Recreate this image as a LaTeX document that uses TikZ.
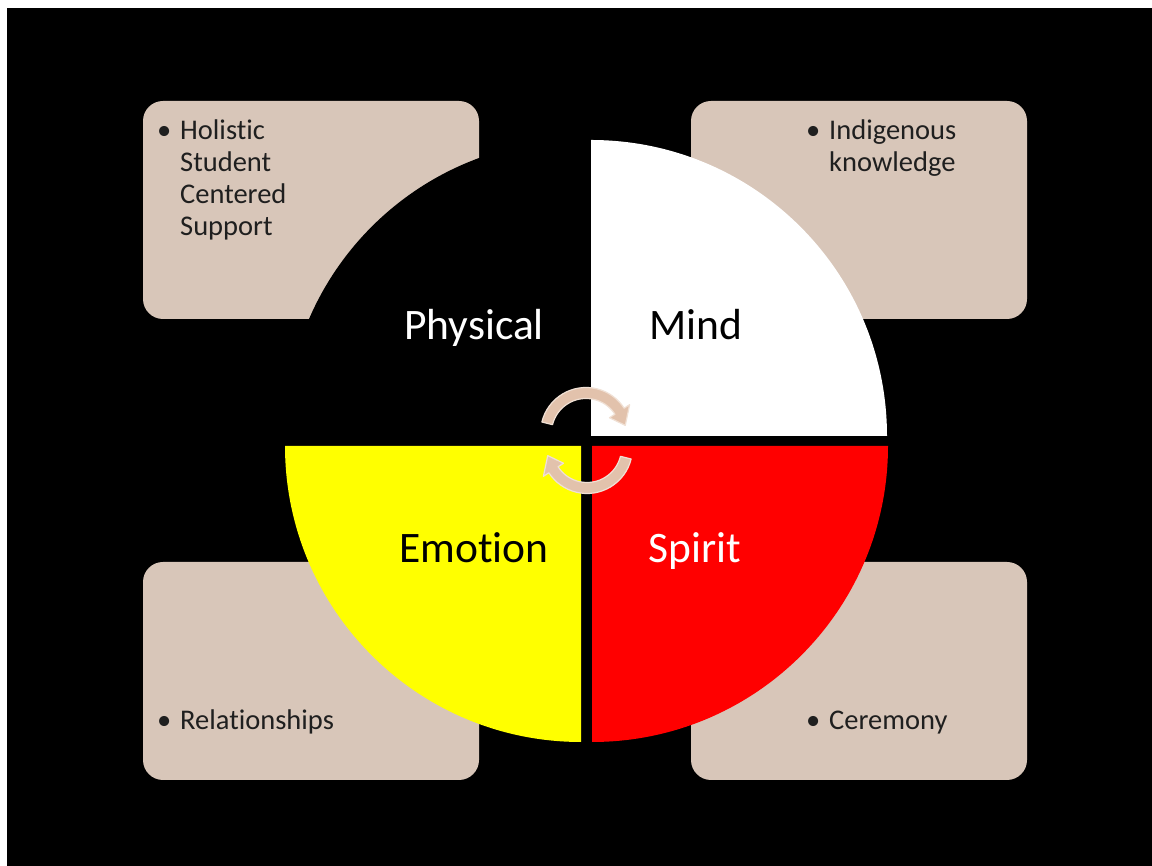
\documentclass[tikz,border=0pt]{standalone}
\usepackage{fontspec}
\setmainfont{Carlito}[Ligatures=NoCommon]
\usetikzlibrary{calc}
\definecolor{boxtan}{RGB}{216,198,185}
\definecolor{arrowtan}{RGB}{226,194,172}
\definecolor{arrowedge}{RGB}{240,224,212}
\definecolor{wheelred}{RGB}{255,0,0}
\definecolor{wheelyellow}{RGB}{255,255,0}
\begin{document}
\begin{tikzpicture}[x=1pt,y=1pt,
  infobox/.style={fill=boxtan, rounded corners=20pt, minimum width=336pt, minimum height=218pt, inner sep=0pt},
  quadlabel/.style={font=\fontsize{43.5}{52}\selectfont, anchor=base, inner sep=0pt},
  boxtext/.style={font=\fontsize{28.5}{31.7}\selectfont, anchor=base west, inner sep=0pt, text=black!88},
  arrowband/.style={fill=arrowtan, draw=arrowedge, line width=1.2pt, line join=round}]
\useasboundingbox (0,0) rectangle (1152,866);
% page and dark canvas
\fill[white] (0,0) rectangle (1152,866);
\fill[black] (7,0) rectangle (1152,858);

% four information boxes
\node[infobox] (boxTL) at (311,656) {};
\node[infobox] (boxTR) at (859,656) {};
\node[infobox] (boxBL) at (311,195) {};
\node[infobox] (boxBR) at (859,195) {};

% the four quadrants of the wheel
\coordinate (physC) at (581,430);
\coordinate (mindC) at (591,430);
\coordinate (emoC) at (581,420);
\coordinate (spiritC) at (592,420);
\fill[black] (physC) -- ++(90:296pt) arc[start angle=90,end angle=180,radius=296pt] -- cycle;
\fill[white] (mindC) -- ++(0:296pt) arc[start angle=0,end angle=90,radius=296pt] -- cycle;
\fill[wheelyellow] (emoC) -- ++(180:296pt) arc[start angle=180,end angle=270,radius=296pt] -- cycle;
\fill[wheelred] (spiritC) -- ++(270:296pt) arc[start angle=270,end angle=360,radius=296pt] -- cycle;

% box texts
\node[boxtext] (txtTL) at (180,726) {\llap{•\hspace{9pt}}\parbox[t]{250pt}{\raggedright Holistic\\Student\\Centered\\Support}};
\node[boxtext] (txtTR) at (829,726) {\llap{•\hspace{9pt}}\parbox[t]{180pt}{\raggedright Indigenous\\knowledge}};
\node[boxtext] (txtBL) at (180,136) {\llap{•\hspace{9pt}}Relationships};
\node[boxtext] (txtBR) at (829,136) {\llap{•\hspace{9pt}}Ceremony};

% quadrant labels
\node[quadlabel, text=white] (physLabel) at (474,526) {Physical};
\node[quadlabel] (mindLabel) at (696,526) {Mind};
\node[quadlabel] (emoLabel) at (474,303) {Emotion};
\node[quadlabel, text=white] (spiritLabel) at (695,303) {Spirit};

% circular arrows in the middle
\coordinate (topRing) at (586,433);
\coordinate (botRing) at (587,418);
\path[arrowband] ($(topRing)+(166:45.5pt)$) arc[start angle=166,end angle=33,radius=45.5pt]
  -- ($(topRing)+(33:52pt)$) -- ($(topRing)+(11:40pt)$) -- ($(topRing)+(33:28pt)$)
  -- ($(topRing)+(33:34.5pt)$) arc[start angle=33,end angle=166,radius=34.5pt] -- cycle;
\path[arrowband] ($(botRing)+(-14:45.5pt)$) arc[start angle=-14,end angle=-147,radius=45.5pt]
  -- ($(botRing)+(-147:52pt)$) -- ($(botRing)+(-169:40pt)$) -- ($(botRing)+(-147:28pt)$)
  -- ($(botRing)+(-147:34.5pt)$) arc[start angle=-147,end angle=-14,radius=34.5pt] -- cycle;
\end{tikzpicture}
\end{document}
